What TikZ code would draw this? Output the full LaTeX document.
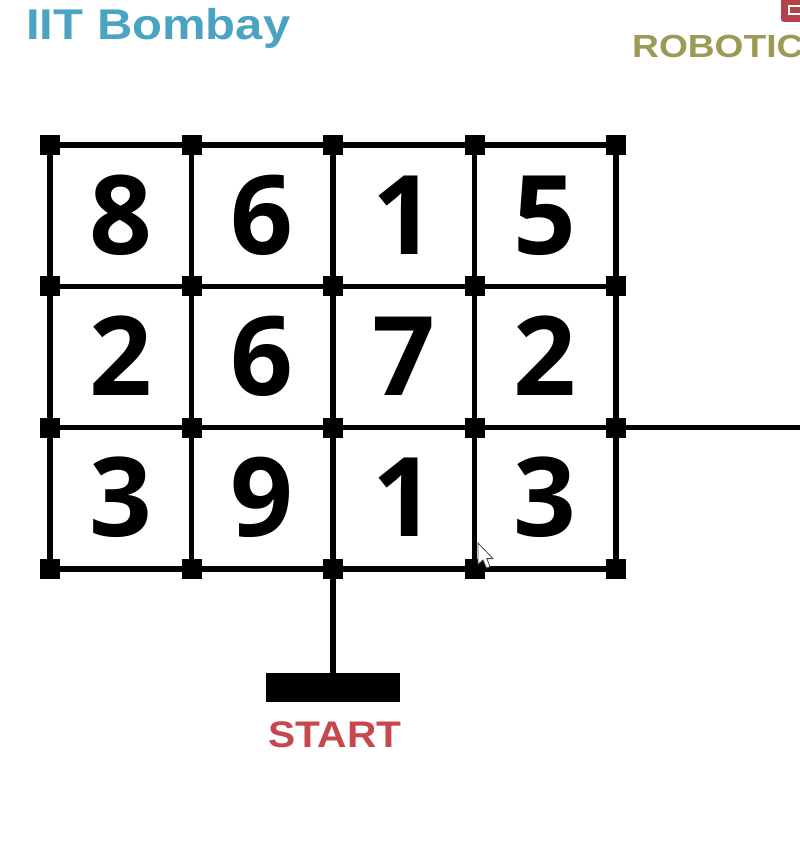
\documentclass[tikz,border=0pt]{standalone}
\usepackage{fontspec}
\setmainfont{Liberation Sans}
\newfontfamily\digitfont{Open Sans}
\definecolor{iitblue}{HTML}{4AA3C2}
\definecolor{robolive}{HTML}{9C9A55}
\definecolor{startred}{HTML}{C7474D}
\definecolor{logored}{HTML}{B5424A}
\begin{document}
\begin{tikzpicture}[x=1pt,y=-1pt,
  dot/.style={fill=black,minimum size=20pt,inner sep=0pt,outer sep=0pt,draw=none,shape=rectangle},
  gridline/.style={line width=5.5pt,black},
  digit/.style={font=\digitfont\fontsize{110}{110}\bfseries,inner sep=0pt,text depth=0pt,anchor=center}]
\useasboundingbox (0,0) rectangle (800,843);
\fill[white] (0,0) rectangle (800,843);
% titles
\node[anchor=base west,inner sep=0pt,text=iitblue,font=\fontsize{43}{43}\bfseries,xscale=1.14] (title) at (26,40) {IIT Bombay};
\node[anchor=base west,inner sep=0pt,text=robolive,font=\fontsize{32}{32}\bfseries,xscale=1.16] (robo) at (632,58) {ROBOTIC};
\fill[logored,rounded corners=3pt] (781,-6) rectangle (806,22);
\draw[white,line width=1.8pt] (800,6) -- (789,6) -- (789,14) -- (800,14);
% grid nodes
\foreach \i in {0,...,4} {
  \foreach \j in {0,...,3} {
    \pgfmathsetmacro{\xx}{50+141.5*\i}
    \pgfmathsetmacro{\yy}{145+141.3*\j}
    \node[dot] (g\i\j) at (\xx,\yy) {};
  }
}
\foreach \j in {0,...,3} \draw[gridline] (g0\j.center) -- (g4\j.center);
\foreach \i in {0,...,4} \draw[gridline] (g\i0.center) -- (g\i3.center);
\foreach \i in {0,...,4} \foreach \j in {0,...,3} \fill (g\i\j.south west) rectangle (g\i\j.north east);
% right exit
\coordinate (exitR) at ([xshift=200pt]g42.center);
\draw[gridline] (g42.center) -- (exitR);
% start
\node[fill=black,minimum width=134pt,minimum height=29pt,inner sep=0pt,outer sep=0pt] (bar) at (333,687.5) {};
\draw[gridline] (g23.center) -- (bar.north);
\node[anchor=base,inner sep=0pt,text=startred,font=\fontsize{37}{37}\bfseries,xscale=1.1] (start) at (335,747) {START};
% digits
\node[digit] (d00) at (121,215) {8};
\node[digit] (d10) at (262,215) {6};
\node[digit] (d20) at (404,215) {1};
\node[digit] (d30) at (545,215) {5};
\node[digit] (d01) at (121,356) {2};
\node[digit] (d11) at (262,356) {6};
\node[digit] (d21) at (404,356) {7};
\node[digit] (d31) at (545,356) {2};
\node[digit] (d02) at (121,497) {3};
\node[digit] (d12) at (262,497) {9};
\node[digit] (d22) at (404,497) {1};
\node[digit] (d32) at (545,497) {3};
% cursor
\begin{scope}[shift={(478,543)},scale=1.25]
\filldraw[fill=white,draw=black!70,line width=0.8pt,line join=miter]
  (0,0) -- (0,17) -- (4,13.5) -- (6.8,20) -- (9.6,18.8) -- (7,12.5) -- (12,12.5) -- cycle;
\end{scope}
\end{tikzpicture}
\end{document}
